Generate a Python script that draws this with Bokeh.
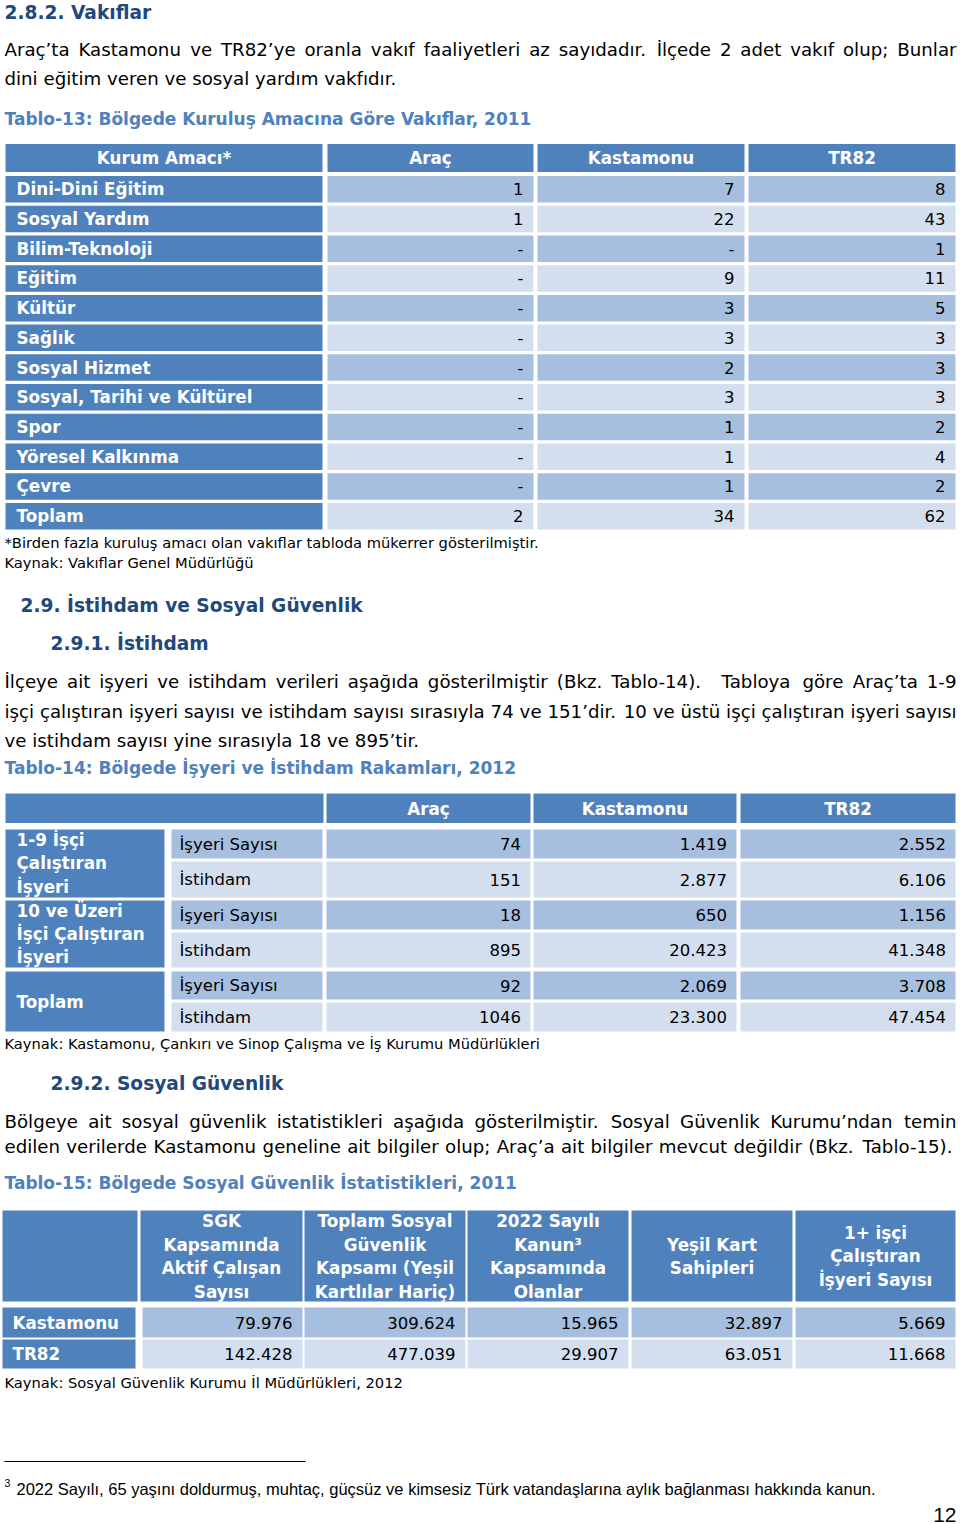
from bokeh.plotting import figure
from bokeh.models import Range1d, ColumnDataSource
from bokeh.embed import file_html
from bokeh.resources import INLINE
from bokeh.core.properties import value

# ---------------- data ----------------
vakif_columns = ["Kurum Amacı*", "Araç", "Kastamonu", "TR82"]
vakif_categories = ["Dini-Dini Eğitim", "Sosyal Yardım", "Bilim-Teknoloji", "Eğitim", "Kültür",
                    "Sağlık", "Sosyal Hizmet", "Sosyal, Tarihi ve Kültürel", "Spor",
                    "Yöresel Kalkınma", "Çevre", "Toplam"]
vakif_arac = ["1", "1", "-", "-", "-", "-", "-", "-", "-", "-", "-", "2"]
vakif_kastamonu = ["7", "22", "-", "9", "3", "3", "2", "3", "1", "1", "1", "34"]
vakif_tr82 = ["8", "43", "1", "11", "5", "3", "3", "3", "2", "4", "2", "62"]

istihdam_columns = ["", "Araç", "Kastamonu", "TR82"]
istihdam_groups = ["1-9 İşçi\nÇalıştıran\nİşyeri", "10 ve Üzeri\nİşçi Çalıştıran\nİşyeri", "Toplam"]
istihdam_measures = ["İşyeri Sayısı", "İstihdam", "İşyeri Sayısı", "İstihdam", "İşyeri Sayısı", "İstihdam"]
istihdam_arac = ["74", "151", "18", "895", "92", "1046"]
istihdam_kastamonu = ["1.419", "2.877", "650", "20.423", "2.069", "23.300"]
istihdam_tr82 = ["2.552", "6.106", "1.156", "41.348", "3.708", "47.454"]

sgk_columns = ["SGK\nKapsamında\nAktif Çalışan\nSayısı",
               "Toplam Sosyal\nGüvenlik\nKapsamı (Yeşil\nKartlılar Hariç)",
               "2022 Sayılı\nKanun³\nKapsamında\nOlanlar",
               "Yeşil Kart\nSahipleri",
               "1+ işçi\nÇalıştıran\nİşyeri Sayısı"]
sgk_regions = ["Kastamonu", "TR82"]
sgk_aktif = ["79.976", "142.428"]
sgk_toplam = ["309.624", "477.039"]
sgk_kanun2022 = ["15.965", "29.907"]
sgk_yesil_kart = ["32.897", "63.051"]
sgk_isyeri = ["5.669", "11.668"]

para1 = ["Araç’ta Kastamonu ve TR82’ye oranla vakıf faaliyetleri az sayıdadır. İlçede 2 adet vakıf olup; Bunlar",
         "dini eğitim veren ve sosyal yardım vakfıdır."]
para2 = ["İlçeye ait işyeri ve istihdam verileri aşağıda gösterilmiştir (Bkz. Tablo-14).  Tabloya göre Araç’ta 1-9",
         "işçi çalıştıran işyeri sayısı ve istihdam sayısı sırasıyla 74 ve 151’dir. 10 ve üstü işçi çalıştıran işyeri sayısı",
         "ve istihdam sayısı yine sırasıyla 18 ve 895’tir."]
para3 = ["Bölgeye ait sosyal güvenlik istatistikleri aşağıda gösterilmiştir. Sosyal Güvenlik Kurumu’ndan temin",
         "edilen verilerde Kastamonu geneline ait bilgiler olup; Araç’a ait bilgiler mevcut değildir (Bkz. Tablo-15)."]

# ---------------- style ----------------
NAVY = "#1F497D"
BLUE = "#4F81BD"
DARK = "#A7BFDE"
LIGHT = "#D3DFEE"
FONT = "DejaVu Sans"
FOOT = "Liberation Sans"

X0, X1 = 0, 960
Y0, Y1 = 0, 1524
W, H = 960, 1524
sx = W / (X1 - X0)
sy = H / (Y1 - Y0)
LH_FACTOR = 1.145   # rendered line advance per (font size * line_height)

BODY = 18.2
HEAD = 18.6
CAP = 17.0
TB = 16.8
TR = 16.5
SMALL = 14.7

W_REG = {" ": 318, "!": 401, "'": 275, "(": 390, ")": 390, "*": 500, ",": 318, "-": 361, ".": 318,
         "/": 337, ":": 337, ";": 337, "’": 318,
         "A": 684, "B": 686, "C": 698, "D": 770, "E": 632, "F": 575, "G": 775, "H": 752, "I": 295,
         "J": 295, "K": 656, "L": 557, "M": 863, "N": 748, "O": 787, "P": 603, "Q": 787, "R": 695,
         "S": 635, "T": 611, "U": 732, "V": 684, "W": 989, "X": 685, "Y": 611, "Z": 685,
         "a": 613, "b": 635, "c": 550, "d": 635, "e": 615, "f": 352, "g": 635, "h": 634, "i": 278,
         "j": 278, "k": 579, "l": 278, "m": 974, "n": 634, "o": 612, "p": 635, "q": 635, "r": 411,
         "s": 521, "t": 392, "u": 634, "v": 592, "w": 818, "x": 592, "y": 592, "z": 525,
         "ç": 550, "ğ": 635, "ı": 278, "ö": 612, "ş": 521, "ü": 634, "Ç": 698, "İ": 295, "Ş": 635,
         "Ö": 787, "Ü": 732}
for d in "0123456789":
    W_REG[d] = 636

texts = []
rects = {BLUE: [], DARK: [], LIGHT: []}


def T(x, y, s, size, color="black", bold=False, align="left", font=FONT, spacing=None):
    texts.append((x, y, s, size, color, bold, align, font, spacing))


def R(l, r, t, b, color):
    rects[color].append((l, r, t, b))


def word_w(w, size):
    return sum(W_REG.get(c, 600) for c in w) / 1000.0 * size


def justify(line, y, x0, x1, size):
    words = line.split(" ")
    ws = [word_w(w, size) for w in words]
    gap = (x1 - x0 - sum(ws)) / (len(words) - 1)
    x = x0
    for i, (w, wd) in enumerate(zip(words, ws)):
        if w:
            if i == len(words) - 1:
                T(x1, y, w, size, align="right")
            else:
                T(x, y, w, size)
        x += wd + gap


# ---------------- page text ----------------
T(4, 12, "2.8.2. Vakıflar", HEAD, NAVY, True)
justify(para1[0], 49, 4, 956, BODY)
T(4, 78, para1[1], BODY)
T(4, 118, "Tablo-13: Bölgede Kuruluş Amacına Göre Vakıflar, 2011", CAP, BLUE, True)

# ---------------- table 13 ----------------
cols13 = [(5, 322), (327, 533), (537, 744), (748, 955)]
for (l, r), name in zip(cols13, vakif_columns):
    R(l, r, 143.5, 171.5, BLUE)
    T((l + r) / 2, 157.5, name, TB, "white", True, "center")
for i, cat in enumerate(vakif_categories):
    t = 175.5 + i * 29.72
    b = t + 26.5
    yc = (t + b) / 2
    R(5, 322, t, b, BLUE)
    T(16, yc, cat, TB, "white", True)
    fill = DARK if i % 2 == 0 else LIGHT
    for (l, r), vals in zip(cols13[1:], [vakif_arac, vakif_kastamonu, vakif_tr82]):
        R(l, r, t, b, fill)
        T(r - 10, yc, vals[i], TR, align="right")

T(4, 542, "*Birden fazla kuruluş amacı olan vakıflar tabloda mükerrer gösterilmiştir.", SMALL)
T(4, 562, "Kaynak: Vakıflar Genel Müdürlüğü", SMALL)

T(20, 605, "2.9. İstihdam ve Sosyal Güvenlik", HEAD, NAVY, True)
T(50, 643, "2.9.1. İstihdam", HEAD, NAVY, True)
justify(para2[0], 681, 4, 956, BODY)
justify(para2[1], 711, 4, 956, BODY)
T(4, 740, para2[2], BODY)
T(4, 767, "Tablo-14: Bölgede İşyeri ve İstihdam Rakamları, 2012", CAP, BLUE, True)

# ---------------- table 14 ----------------
cols14 = [(5, 323), (326, 530), (533, 736), (740, 955)]
for (l, r), name in zip(cols14, istihdam_columns):
    R(l, r, 793, 822.5, BLUE)
    if name:
        T((l + r) / 2, 808, name, TB, "white", True, "center")
rows14 = [(829, 858), (861, 897), (900, 929), (932, 967), (971, 999), (1002, 1031)]
for g, label in enumerate(istihdam_groups):
    t = rows14[2 * g][0]
    b = rows14[2 * g + 1][1]
    R(5, 164, t, b, BLUE)
    T(16, (t + b) / 2, label, TB, "white", True, spacing=22.5)
for i, meas in enumerate(istihdam_measures):
    t, b = rows14[i]
    yc = (t + b) / 2
    fill = DARK if i % 2 == 0 else LIGHT
    R(171, 322, t, b, fill)
    T(179, yc, meas, TR)
    for (l, r), vals in zip(cols14[1:], [istihdam_arac, istihdam_kastamonu, istihdam_tr82]):
        R(l, r, t, b, fill)
        T(r - 9.5, yc, vals[i], TR, align="right")

T(4, 1043, "Kaynak: Kastamonu, Çankırı ve Sinop Çalışma ve İş Kurumu Müdürlükleri", SMALL)
T(50, 1083, "2.9.2. Sosyal Güvenlik", HEAD, NAVY, True)
justify(para3[0], 1121, 4, 956, BODY)
justify(para3[1], 1146, 4, 952, BODY)
T(4, 1182, "Tablo-15: Bölgede Sosyal Güvenlik İstatistikleri, 2011", CAP, BLUE, True)

# ---------------- table 15 ----------------
cols15 = [(2, 137), (140, 302), (304, 465), (467, 628), (631, 792), (795, 955)]
R(cols15[0][0], cols15[0][1], 1210, 1301, BLUE)
for (l, r), name in zip(cols15[1:], sgk_columns):
    R(l, r, 1210, 1301, BLUE)
    T((l + r) / 2, 1256, name, TB, "white", True, "center", spacing=23)
rows15 = [(1307, 1337), (1339, 1368)]
series15 = [sgk_aktif, sgk_toplam, sgk_kanun2022, sgk_yesil_kart, sgk_isyeri]
for i, reg in enumerate(sgk_regions):
    t, b = rows15[i]
    yc = (t + b) / 2
    R(2, 135, t, b, BLUE)
    T(12, yc, reg, TB, "white", True)
    fill = DARK if i % 2 == 0 else LIGHT
    for j, ((l, r), vals) in enumerate(zip(cols15[1:], series15)):
        l2 = 142 if j == 0 else l
        R(l2, r, t, b, fill)
        T(r - 10, yc, vals[i], TR, align="right")

T(4, 1382, "Kaynak: Sosyal Güvenlik Kurumu İl Müdürlükleri, 2012", SMALL)

# ---------------- footnote ----------------
T(4, 1482, "3", 10.5, font=FOOT)
T(16, 1488, "2022 Sayılı, 65 yaşını doldurmuş, muhtaç, güçsüz ve kimsesiz Türk vatandaşlarına aylık bağlanması hakkında kanun.", 16.5, font=FOOT)
T(956, 1514, "12", 21, font=FOOT, align="right")

# ---------------- figure ----------------
p = figure(width=W, height=H, x_range=Range1d(X0, X1), y_range=Range1d(Y1, Y0),
           output_backend="svg", toolbar_location=None,
           x_axis_location=None, y_axis_location=None, min_border=0)
p.grid.visible = False
p.outline_line_color = None
p.background_fill_color = "white"
p.border_fill_color = "white"

for color, lst in rects.items():
    if lst:
        p.quad(left=[q[0] for q in lst], right=[q[1] for q in lst],
               top=[q[2] for q in lst], bottom=[q[3] for q in lst],
               fill_color=color, line_color=None)

p.line(x=[4, 305], y=[1461, 1461], line_color="black", line_width=1)

groups = {}
for (x, y, s, size, color, bold, align, font, spacing) in texts:
    key = (size, color, bold, align, font, spacing)
    groups.setdefault(key, {"x": [], "y": [], "text": []})
    groups[key]["x"].append(x)
    groups[key]["y"].append(y)
    groups[key]["text"].append(s)

for (size, color, bold, align, font, spacing), data in groups.items():
    lh = 1.2 if spacing is None else spacing * sy / (size * sx * LH_FACTOR)
    p.text(x="x", y="y", text="text", source=ColumnDataSource(data),
           text_font=value(font), text_font_size=f"{size * sx:.2f}px",
           text_font_style="bold" if bold else "normal", text_color=color,
           text_align=align, text_baseline="middle", text_line_height=lh)

open("out.html", "w").write(file_html(p, INLINE))
